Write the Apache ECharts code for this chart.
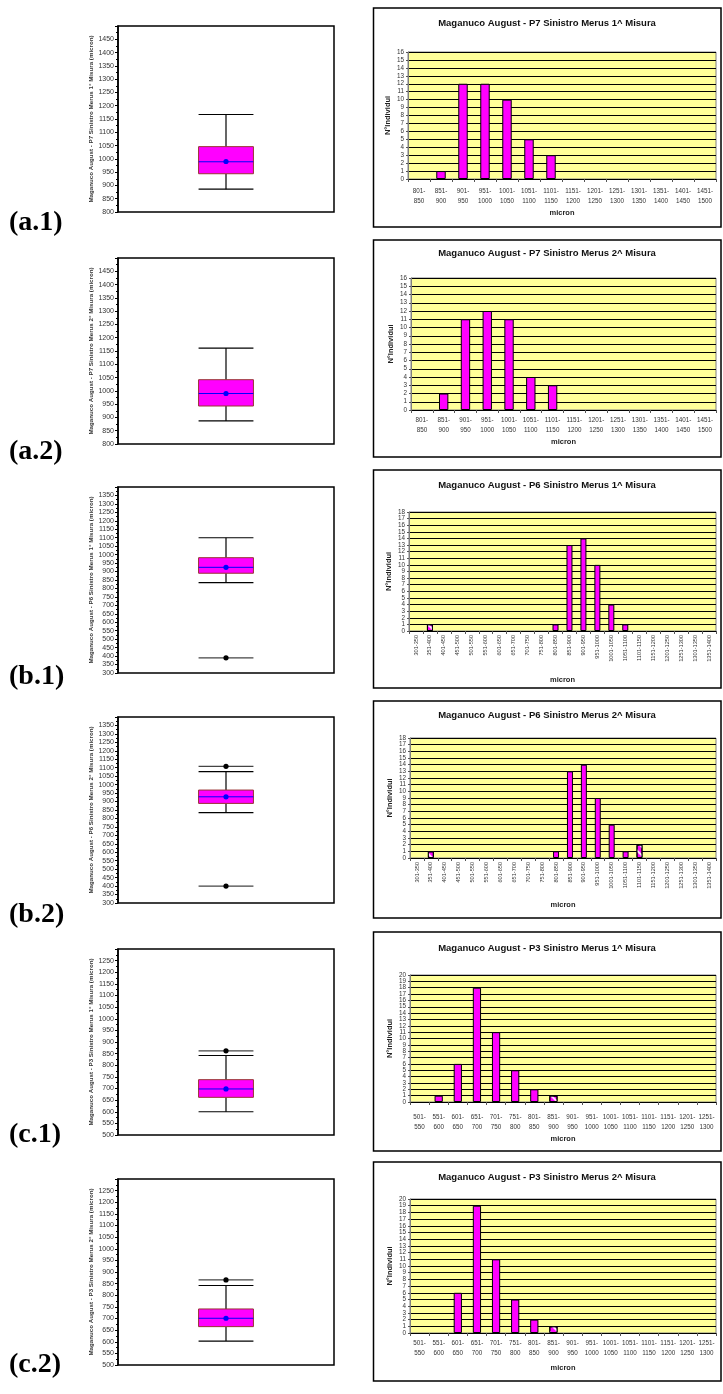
<!DOCTYPE html>
<html>
<head>
<meta charset="utf-8">
<script src="https://cdn.jsdelivr.net/npm/echarts@6/dist/echarts.min.js"></script>
<style>
  html, body { margin: 0; padding: 0; background: #fff; }
  #chart { width: 723px; height: 1394px; }
</style>
</head>
<body>
<div id="chart"></div>
<script>
// ---- Size classes (micron) ----
const binsP7 = ['801-850','851-900','901-950','951-1000','1001-1050','1051-1100','1101-1150','1151-1200','1201-1250','1251-1300','1301-1350','1351-1400','1401-1450','1451-1500'];
const binsP6 = ['301-350','351-400','401-450','451-500','501-550','551-600','601-650','651-700','701-750','751-800','801-850','851-900','901-950','951-1000','1001-1050','1051-1100','1101-1150','1151-1200','1201-1250','1251-1300','1301-1350','1351-1400'];
const binsP3 = ['501-550','551-600','601-650','651-700','701-750','751-800','801-850','851-900','901-950','951-1000','1001-1050','1051-1100','1101-1150','1151-1200','1201-1250','1251-1300'];

// ---- Number of individuals per class ----
const countP7m1 = [0, 1, 12, 12, 10, 5, 3, 0, 0, 0, 0, 0, 0, 0];
const countP7m2 = [0, 2, 11, 12, 11, 4, 3, 0, 0, 0, 0, 0, 0, 0];
const countP6m1 = [0, 1, 0, 0, 0, 0, 0, 0, 0, 0, 1, 13, 14, 10, 4, 1, 0, 0, 0, 0, 0, 0];
const countP6m2 = [0, 1, 0, 0, 0, 0, 0, 0, 0, 0, 1, 13, 14, 9, 5, 1, 2, 0, 0, 0, 0, 0];
const countP3m1 = [0, 1, 6, 18, 11, 5, 2, 1, 0, 0, 0, 0, 0, 0, 0, 0];
const countP3m2 = [0, 0, 6, 19, 11, 5, 2, 1, 0, 0, 0, 0, 0, 0, 0, 0];

// classes that contain outlying measurements (hatched bars)
const flaggedP7m1 = [];
const flaggedP7m2 = [];
const flaggedP6m1 = [1];
const flaggedP6m2 = [1, 16];
const flaggedP3m1 = [7];
const flaggedP3m2 = [7];

// ---- Box plot statistics: [min, Q1, median, Q3, max] ----
const boxP7m1 = [886, 944, 989, 1046, 1167];
const boxP7m2 = [887, 943, 990, 1042, 1161];
const boxP6m1 = [835, 890, 925, 982, 1100];
const boxP6m2 = [835, 889, 928, 968, 1077];
const boxP3m1 = [600, 662, 698, 738, 842];
const boxP3m2 = [603, 665, 701, 741, 842];
const meanP7m1 = 990, meanP7m2 = 990, meanP6m1 = 925, meanP6m2 = 928, meanP3m1 = 698, meanP3m2 = 701;
const outP7m1 = [];
const outP7m2 = [];
const outP6m1 = [390];
const outP6m2 = [400, 1108];
const outP3m1 = [862];
const outP3m2 = [866];

// ---- Axis ranges ----
const boxRangeP7 = [800, 1500];
const boxRangeP6 = [300, 1400];
const boxRangeP3 = [500, 1300];
const countMaxP7 = 16, countMaxP6 = 18, countMaxP3 = 20;

// ---- Texts ----
const panelTags = ['(a.1)', '(a.2)', '(b.1)', '(b.2)', '(c.1)', '(c.2)'];
const histTitles = [
  'Maganuco August - P7 Sinistro Merus 1^ Misura',
  'Maganuco August - P7 Sinistro Merus 2^ Misura',
  'Maganuco August - P6 Sinistro Merus 1^ Misura',
  'Maganuco August - P6 Sinistro Merus 2^ Misura',
  'Maganuco August - P3 Sinistro Merus 1^ Misura',
  'Maganuco August - P3 Sinistro Merus 2^ Misura'
];
const boxAxisNames = [
  'Maganuco August - P7 Sinistro Merus 1° Misura (micron)',
  'Maganuco August - P7 Sinistro Merus 2° Misura (micron)',
  'Maganuco August - P6 Sinistro Merus 1° Misura (micron)',
  'Maganuco August - P6 Sinistro Merus 2° Misura (micron)',
  'Maganuco August - P3 Sinistro Merus 1° Misura (micron)',
  'Maganuco August - P3 Sinistro Merus 2° Misura (micron)'
];
const xName = 'micron';
const yName = 'N°Individui';

// ---- Panel assembly ----
const panels = [
  { bins: binsP7, counts: countP7m1, flagged: flaggedP7m1, cmax: countMaxP7, box: boxP7m1, mean: meanP7m1, out: outP7m1, range: boxRangeP7, rotate: false },
  { bins: binsP7, counts: countP7m2, flagged: flaggedP7m2, cmax: countMaxP7, box: boxP7m2, mean: meanP7m2, out: outP7m2, range: boxRangeP7, rotate: false },
  { bins: binsP6, counts: countP6m1, flagged: flaggedP6m1, cmax: countMaxP6, box: boxP6m1, mean: meanP6m1, out: outP6m1, range: boxRangeP6, rotate: true },
  { bins: binsP6, counts: countP6m2, flagged: flaggedP6m2, cmax: countMaxP6, box: boxP6m2, mean: meanP6m2, out: outP6m2, range: boxRangeP6, rotate: true },
  { bins: binsP3, counts: countP3m1, flagged: flaggedP3m1, cmax: countMaxP3, box: boxP3m1, mean: meanP3m1, out: outP3m1, range: boxRangeP3, rotate: false },
  { bins: binsP3, counts: countP3m2, flagged: flaggedP3m2, cmax: countMaxP3, box: boxP3m2, mean: meanP3m2, out: outP3m2, range: boxRangeP3, rotate: false }
];

// ---- Layout (pixels) ----
const boxGridTop = [26, 258, 487, 717, 949, 1179];
const boxGridH = 186;
const histGridTop = [52, 278, 512, 738, 975, 1199];
const histGridH = [127, 132, 119, 120, 127, 134];
const histGridLeft = [408, 411, 409, 410, 410, 410];
const frameTop = [8, 240, 470, 701, 932, 1162];
const frameBottom = [227, 457, 688, 918, 1151, 1381];
const titleY = [23, 253, 485, 715, 948, 1177];
const xLabelMargin = [8, 6, 4, 4, 11, 6];
const xNameGap = [30, 28, 45, 43, 33, 31];
const tagY = [223, 452, 677, 915, 1135, 1365];

const FONT = '"Liberation Sans", Arial, sans-serif';
const MAGENTA = '#FF00FF';

function drawBox(params, api) {
  const x0 = api.value(0);
  const cx = api.coord([x0, api.value(3)])[0];
  const half = api.size([1, 0])[0] * 0.127;
  const y = (i) => api.coord([x0, api.value(i)])[1];
  const yMin = y(1), yQ1 = y(2), yMed = y(3), yQ3 = y(4), yMax = y(5), yMean = y(6);
  const ink = { stroke: '#000', lineWidth: 1.2 };
  return {
    type: 'group',
    children: [
      { type: 'line', shape: { x1: cx, y1: yMin, x2: cx, y2: yQ1 }, style: ink },
      { type: 'line', shape: { x1: cx, y1: yQ3, x2: cx, y2: yMax }, style: ink },
      { type: 'line', shape: { x1: cx - half, y1: yMin, x2: cx + half, y2: yMin }, style: ink },
      { type: 'line', shape: { x1: cx - half, y1: yMax, x2: cx + half, y2: yMax }, style: ink },
      { type: 'rect', shape: { x: cx - half, y: yQ3, width: half * 2, height: yQ1 - yQ3 },
        style: { fill: MAGENTA, stroke: '#993333', lineWidth: 1 } },
      { type: 'line', shape: { x1: cx - half, y1: yMed, x2: cx + half, y2: yMed },
        style: { stroke: '#0000FF', lineWidth: 1 } },
      { type: 'circle', shape: { cx: cx, cy: yMean, r: 2.6 }, style: { fill: '#0000FF' } }
    ]
  };
}

function drawOutlier(params, api) {
  const p = api.coord([api.value(0), api.value(1)]);
  const half = api.size([1, 0])[0] * 0.127;
  return {
    type: 'group',
    children: [
      { type: 'line', shape: { x1: p[0] - half, y1: p[1], x2: p[0] + half, y2: p[1] },
        style: { stroke: '#444', lineWidth: 1.3 } },
      { type: 'circle', shape: { cx: p[0], cy: p[1], r: 2.6 }, style: { fill: '#000' } }
    ]
  };
}

// sparse white diagonal stripes over magenta
const hatch = {
  symbol: 'rect', symbolSize: 1, color: 'rgba(255,255,255,0.85)',
  dashArrayX: [1, 0], dashArrayY: [1.5, 4], rotation: Math.PI / 4
};

const plain = (v) => String(v);
const grid = [], xAxis = [], yAxis = [], series = [], graphic = [];

panels.forEach((p, i) => {
  // --- box plot panel ---
  const bi = grid.length;
  grid.push({ left: 118, width: 216, top: boxGridTop[i], height: boxGridH,
    show: true, backgroundColor: '#fff', borderColor: '#000', borderWidth: 1.5 });
  xAxis.push({ type: 'category', gridIndex: bi, data: [''],
    axisLine: { show: false }, axisTick: { show: false }, axisLabel: { show: false } });
  yAxis.push({ type: 'value', gridIndex: bi, min: p.range[0], max: p.range[1], interval: 50,
    axisLine: { show: true, lineStyle: { color: '#000', width: 1.5 } },
    axisTick: { show: true, length: 3, lineStyle: { color: '#000' } },
    minorTick: { show: true, splitNumber: 2, length: 2, lineStyle: { color: '#000' } },
    splitLine: { show: false },
    axisLabel: { showMaxLabel: false, fontSize: 7, color: '#333', margin: 4, fontFamily: FONT, formatter: plain },
    name: boxAxisNames[i], nameLocation: 'middle', nameGap: 21,
    nameTextStyle: { fontSize: 6.2, fontWeight: 'bold', color: '#333', fontFamily: FONT } });
  series.push({ type: 'custom', xAxisIndex: bi, yAxisIndex: bi, renderItem: drawBox,
    encode: { x: 0, y: [1, 2, 3, 4, 5, 6] },
    data: [[0].concat(p.box, [p.mean])], silent: true });
  if (p.out.length) {
    series.push({ type: 'custom', xAxisIndex: bi, yAxisIndex: bi, renderItem: drawOutlier,
      encode: { x: 0, y: 1 }, data: p.out.map(v => [0, v]), silent: true });
  }

  // --- histogram panel ---
  const hi = grid.length;
  grid.push({ left: histGridLeft[i], right: 7, top: histGridTop[i], height: histGridH[i],
    show: true, backgroundColor: '#FFFF99', borderColor: '#808080', borderWidth: 1 });
  xAxis.push({ type: 'category', gridIndex: hi, data: p.bins,
    axisLine: { show: true, lineStyle: { color: '#000', width: 1 } },
    axisTick: { show: true, interval: 0, length: 3, lineStyle: { color: '#555' } },
    axisLabel: {
      interval: 0, fontSize: p.rotate ? 5.6 : 6.3, color: '#333', fontFamily: FONT,
      rotate: p.rotate ? 90 : 0, margin: xLabelMargin[i], lineHeight: 9.5,
      formatter: p.rotate ? (v) => v : (v) => v.replace('-', '-\n')
    },
    name: xName, nameLocation: 'middle', nameGap: xNameGap[i],
    nameTextStyle: { fontSize: 7.5, fontWeight: 'bold', color: '#222', fontFamily: FONT } });
  yAxis.push({ type: 'value', gridIndex: hi, min: 0, max: p.cmax, interval: 1,
    axisLine: { show: true, lineStyle: { color: '#808080' } },
    axisTick: { show: true, length: 2, lineStyle: { color: '#555' } },
    splitLine: { show: true, lineStyle: { color: '#000', width: 1 } },
    axisLabel: { fontSize: 6.3, color: '#333', margin: 4, fontFamily: FONT, formatter: plain },
    name: yName, nameLocation: 'middle', nameGap: 16,
    nameTextStyle: { fontSize: 7.5, fontWeight: 'bold', color: '#222', fontFamily: FONT } });
  series.push({ type: 'bar', xAxisIndex: hi, yAxisIndex: hi, barCategoryGap: '57%',
    itemStyle: { color: MAGENTA, borderColor: '#000', borderWidth: 1 },
    // empty classes are left blank rather than drawn as flat bars
    data: p.counts.map((v, k) => v === 0 ? null
      : (p.flagged.indexOf(k) >= 0 ? { value: v, itemStyle: { decal: hatch } } : v)),
    silent: true });

  // frame, title and panel tag
  graphic.push({ type: 'rect', z: 100, silent: true,
    shape: { x: 373.5, y: frameTop[i], width: 347.5, height: frameBottom[i] - frameTop[i] },
    style: { fill: 'none', stroke: '#000', lineWidth: 1.5 } });
  graphic.push({ type: 'text', z: 100, silent: true, x: 547, y: titleY[i],
    style: { text: histTitles[i], align: 'center', verticalAlign: 'middle',
      font: 'bold 9.5px ' + FONT, fill: '#111' } });
  graphic.push({ type: 'text', z: 100, silent: true, x: 9, y: tagY[i],
    style: { text: panelTags[i], align: 'left', verticalAlign: 'middle',
      font: 'bold 28px "Liberation Serif", "Times New Roman", serif', fill: '#000' } });
});

const chart = echarts.init(document.getElementById('chart'), null, { renderer: 'canvas' });
chart.setOption({
  animation: false,
  backgroundColor: '#fff',
  textStyle: { fontFamily: FONT },
  grid, xAxis, yAxis, series, graphic
});
</script>
</body>
</html>
